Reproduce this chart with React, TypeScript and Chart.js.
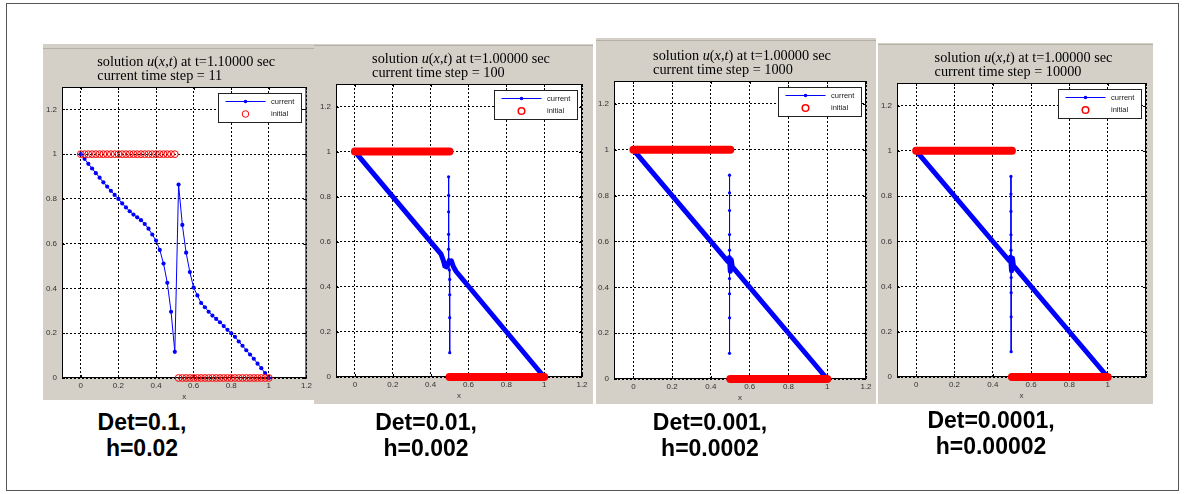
import React, { useEffect, useRef } from "react";
import { Chart, registerables } from "chart.js";

Chart.register(...registerables);

// ---------- tick labels ----------
const xTickValues = [0, 0.2, 0.4, 0.6, 0.8, 1, 1.2];
const xTickLabels = ["0", "0.2", "0.4", "0.6", "0.8", "1", "1.2"];
const xTickLabelsCut = ["0", "0.2", "0.4", "0.6", "0.8", "1", ""];
const yTickValues = [0, 0.2, 0.4, 0.6, 0.8, 1, 1.2];
const yTickLabels = ["0", "0.2", "0.4", "0.6", "0.8", "1", "1.2"];

// ---------- panel 1 (Det=0.1, h=0.02) ----------
const p1X = [0, 0.02, 0.04, 0.06, 0.08, 0.1, 0.12, 0.14, 0.16, 0.18, 0.2, 0.22, 0.24, 0.26, 0.28, 0.3, 0.32, 0.34, 0.36, 0.38, 0.4, 0.42, 0.44, 0.46, 0.48, 0.5, 0.52, 0.54, 0.56, 0.58, 0.6, 0.62, 0.64, 0.66, 0.68, 0.7, 0.72, 0.74, 0.76, 0.78, 0.8, 0.82, 0.84, 0.86, 0.88, 0.9, 0.92, 0.94, 0.96, 0.98, 1];
const p1Current = [1, 0.979, 0.957, 0.936, 0.915, 0.895, 0.874, 0.855, 0.836, 0.818, 0.8, 0.78, 0.762, 0.745, 0.73, 0.718, 0.705, 0.688, 0.667, 0.641, 0.614, 0.572, 0.511, 0.425, 0.296, 0.117, 0.864, 0.684, 0.56, 0.473, 0.404, 0.369, 0.335, 0.316, 0.296, 0.279, 0.264, 0.249, 0.232, 0.215, 0.2, 0.184, 0.163, 0.144, 0.124, 0.105, 0.086, 0.064, 0.044, 0.022, 0];
const p1Initial = [1, 1, 1, 1, 1, 1, 1, 1, 1, 1, 1, 1, 1, 1, 1, 1, 1, 1, 1, 1, 1, 1, 1, 1, 1, 1, 0, 0, 0, 0, 0, 0, 0, 0, 0, 0, 0, 0, 0, 0, 0, 0, 0, 0, 0, 0, 0, 0, 0, 0, 0];

// ---------- panel 2 (Det=0.01, h=0.002) ----------
const p2BandX = [0, 0.455, 0.468, 0.475, 0.485, 0.495, 0.51, 0.52, 0.535, 1];
const p2BandY = [1, 0.545, 0.515, 0.492, 0.488, 0.51, 0.515, 0.49, 0.468, 0];
const p2SpikeX = [0.495, 0.495, 0.495, 0.495, 0.495, 0.496, 0.499, 0.501, 0.501, 0.501, 0.501];
const p2SpikeY = [0.888, 0.806, 0.733, 0.633, 0.567, 0.522, 0.475, 0.433, 0.365, 0.263, 0.108];

// ---------- panel 3 (Det=0.001, h=0.0002) ----------
const p3BandX = [0, 0.488, 0.495, 0.5, 0.505, 0.51, 1];
const p3BandY = [1, 0.512, 0.53, 0.47, 0.52, 0.49, 0];
const p3SpikeX = [0.496, 0.496, 0.496, 0.496, 0.496, 0.496, 0.496, 0.496, 0.496, 0.496, 0.496];
const p3SpikeY = [0.889, 0.812, 0.735, 0.63, 0.562, 0.52, 0.5, 0.438, 0.372, 0.267, 0.112];

// ---------- panel 4 (Det=0.0001, h=0.00002) ----------
const p4BandX = [0, 0.486, 0.493, 0.498, 0.503, 0.508, 1];
const p4BandY = [1, 0.514, 0.53, 0.47, 0.525, 0.492, 0];
const p4SpikeX = [0.495, 0.495, 0.495, 0.495, 0.495, 0.495, 0.496, 0.496, 0.496, 0.496, 0.496];
const p4SpikeY = [0.887, 0.809, 0.732, 0.629, 0.561, 0.524, 0.48, 0.44, 0.373, 0.266, 0.112];

// initial condition (dense markers in panels 2-4 drawn as a thick bar)
const initBarX = [0, 0.5, 0.5, 0.5, 1];
const initBarY = [1, 1, null, 0, 0];

// ---------- texts ----------
const timeLabels = ["1.10000", "1.00000", "1.00000", "1.00000"];
const stepLabels = ["11", "100", "1000", "10000"];
const detLabels = ["Det=0.1,", "Det=0.01,", "Det=0.001,", "Det=0.0001,"];
const hLabels = ["h=0.02", "h=0.002", "h=0.0002", "h=0.00002"];

const SANS = "'Liberation Sans', Arial, sans-serif";
const SERIF = "'Liberation Serif', 'DejaVu Serif', serif";
const BLUE = "#0000ff";
const RED = "#ff0000";

const pts = (xs: number[], ys: (number | null)[]) => xs.map((x, i) => ({ x, y: ys[i] }));

type Geo = { left: number; top: number; w: number; h: number; plot: { l: number; t: number; r: number; b: number } };

const layouts: Geo[] = [
  { left: 43, top: 44, w: 272, h: 356, plot: { l: 62, t: 87, r: 307, b: 378 } },
  { left: 314, top: 44, w: 279, h: 360, plot: { l: 336, t: 84, r: 582, b: 377 } },
  { left: 596, top: 38, w: 280, h: 366, plot: { l: 614, t: 81, r: 866, b: 379 } },
  { left: 878, top: 43, w: 275, h: 361, plot: { l: 897, t: 83, r: 1146, b: 377 } },
];
const topLineOffsets = [4, 1, 2, 1];
const captionCenters = [142, 426, 710, 991];
const captionTops = [409, 409, 409, 407];

function buildDatasets(idx: number): any[] {
  if (idx === 0) {
    return [
      {
        label: "initial",
        data: pts(p1X, p1Initial),
        showLine: false,
        pointStyle: "circle",
        pointRadius: 3.4,
        pointBorderWidth: 1,
        pointBorderColor: RED,
        pointBackgroundColor: "rgba(0,0,0,0)",
        borderColor: RED,
        order: 1,
        clip: false,
      },
      {
        label: "current",
        data: pts(p1X, p1Current),
        borderColor: BLUE,
        borderWidth: 1,
        pointStyle: "circle",
        pointRadius: 2.1,
        pointBorderWidth: 0,
        pointBackgroundColor: BLUE,
        tension: 0,
        order: 2,
        clip: false,
      },
    ];
  }
  const bands = [null, [p2BandX, p2BandY], [p3BandX, p3BandY], [p4BandX, p4BandY]];
  const spikes = [null, [p2SpikeX, p2SpikeY], [p3SpikeX, p3SpikeY], [p4SpikeX, p4SpikeY]];
  const band = bands[idx] as any;
  const spike = spikes[idx] as any;
  return [
    {
      label: "initial",
      data: pts(initBarX, initBarY),
      borderColor: RED,
      borderWidth: 8,
      borderCapStyle: "round",
      pointRadius: 0,
      spanGaps: false,
      order: 1,
      clip: false,
    },
    {
      label: "current-spike",
      data: pts(spike[0], spike[1]),
      borderColor: BLUE,
      borderWidth: 1,
      pointStyle: "circle",
      pointRadius: 1.6,
      pointBorderWidth: 0,
      pointBackgroundColor: BLUE,
      order: 2,
      clip: false,
    },
    {
      label: "current",
      data: pts(band[0], band[1]),
      borderColor: BLUE,
      borderWidth: 5,
      borderCapStyle: "round",
      borderJoinStyle: "round",
      pointRadius: 0,
      order: 3,
      clip: false,
    },
  ];
}

function drawTitle(ctx: CanvasRenderingContext2D, a: any, t: string, step: string) {
  const segs: [string, boolean][] = [
    ["solution ", false],
    ["u", true],
    ["(", false],
    ["x", true],
    [",", false],
    ["t", true],
    [")", false],
    [" at t=" + t + " sec", false],
  ];
  const setFont = (size: number, it: boolean) => {
    ctx.font = `${it ? "italic " : ""}${size}px ${SERIF}`;
  };
  const measure = (size: number) =>
    segs.reduce((w, [s, it]) => {
      setFont(size, it);
      return w + ctx.measureText(s).width;
    }, 0);
  const size = (12 * 178) / measure(12);
  const total = measure(size);
  const cx = (a.left + a.right) / 2 + 2;
  let x = cx - total / 2;
  const x0 = x;
  const y1 = a.top - 21.5;
  ctx.fillStyle = "#000";
  ctx.textAlign = "left";
  ctx.textBaseline = "alphabetic";
  for (const [s, it] of segs) {
    setFont(size, it);
    ctx.fillText(s, x, y1);
    x += ctx.measureText(s).width;
  }
  setFont(size, false);
  ctx.fillText("current time step = " + step, x0, y1 + 14.3);
}

function makePlugin(idx: number) {
  return {
    id: "matlabLook" + idx,
    beforeDraw(chart: any) {
      const { ctx, chartArea: a } = chart;
      ctx.save();
      ctx.fillStyle = "#fff";
      ctx.fillRect(a.left, a.top, a.right - a.left, a.bottom - a.top);
      ctx.restore();
    },
    beforeDatasetsDraw(chart: any) {
      const { ctx, chartArea: a } = chart;
      const xs = chart.scales.x;
      const ys = chart.scales.y;
      ctx.save();
      ctx.strokeStyle = "#000";
      ctx.lineWidth = 1;
      ctx.setLineDash([]);
      ctx.strokeRect(a.left + 0.5, a.top + 0.5, a.right - a.left - 1, a.bottom - a.top - 1);
      ctx.beginPath();
      for (const v of xTickValues) {
        const px = Math.round(xs.getPixelForValue(v)) + 0.5;
        ctx.moveTo(px, a.bottom);
        ctx.lineTo(px, a.bottom - 3);
        ctx.moveTo(px, a.top);
        ctx.lineTo(px, a.top + 3);
      }
      for (const v of yTickValues) {
        const py = Math.round(ys.getPixelForValue(v)) + 0.5;
        ctx.moveTo(a.left, py);
        ctx.lineTo(a.left + 3, py);
        ctx.moveTo(a.right, py);
        ctx.lineTo(a.right - 3, py);
      }
      ctx.stroke();
      ctx.restore();
    },
    afterDatasetsDraw(chart: any) {
      const { ctx, chartArea: a } = chart;
      const bw = 83;
      const bh = 29;
      const bx = Math.round(a.right - 5.5 - bw);
      const by = Math.round(a.top + 6);
      ctx.save();
      ctx.fillStyle = "#fff";
      ctx.fillRect(bx, by, bw, bh);
      ctx.strokeStyle = "#222";
      ctx.lineWidth = 1;
      ctx.strokeRect(bx + 0.5, by + 0.5, bw, bh);
      // current sample
      ctx.strokeStyle = BLUE;
      ctx.beginPath();
      ctx.moveTo(bx + 7.5, by + 8.5);
      ctx.lineTo(bx + 47.5, by + 8.5);
      ctx.stroke();
      ctx.fillStyle = BLUE;
      ctx.beginPath();
      ctx.arc(bx + 27.5, by + 8.5, 1.8, 0, Math.PI * 2);
      ctx.fill();
      // initial sample
      ctx.strokeStyle = RED;
      ctx.lineWidth = idx === 0 ? 1 : 1.5;
      ctx.beginPath();
      ctx.arc(bx + 27.5, by + 21, 3.3, 0, Math.PI * 2);
      ctx.stroke();
      // texts
      ctx.fillStyle = "#222";
      ctx.font = `7.5px ${SANS}`;
      ctx.textAlign = "left";
      ctx.textBaseline = "middle";
      ctx.fillText("current", bx + 53, by + 8.5);
      ctx.fillText("initial", bx + 53, by + 21);
      ctx.restore();
    },
    afterDraw(chart: any) {
      const { ctx, chartArea: a } = chart;
      ctx.save();
      drawTitle(ctx, a, timeLabels[idx], stepLabels[idx]);
      ctx.fillStyle = "#333";
      ctx.font = `8px ${SANS}`;
      ctx.textAlign = "center";
      ctx.textBaseline = "middle";
      ctx.fillText("x", (a.left + a.right) / 2, a.bottom + 19);
      ctx.restore();
    },
  };
}

function Panel({ idx }: { idx: number }) {
  const ref = useRef<HTMLCanvasElement>(null);
  const g = layouts[idx];
  useEffect(() => {
    const canvas = ref.current;
    if (!canvas) return;
    const padTop = g.plot.t - g.top;
    const padRight = g.left + g.w - g.plot.r;
    const yW = g.plot.l - g.left;
    const xH = g.top + g.h - g.plot.b;
    const xLabels = idx === 3 ? xTickLabelsCut : xTickLabels;
    const chart = new Chart(canvas, {
      type: "line",
      data: { datasets: buildDatasets(idx) },
      options: {
        responsive: false,
        devicePixelRatio: 1,
        animation: false,
        events: [],
        layout: { padding: { top: padTop, right: padRight, left: 0, bottom: 0 } },
        plugins: { legend: { display: false }, title: { display: false }, tooltip: { enabled: false } },
        scales: {
          x: {
            type: "linear",
            min: -0.1,
            max: 1.2,
            afterBuildTicks: (s: any) => {
              s.ticks = xTickValues.map((v) => ({ value: v }));
            },
            afterFit: (s: any) => {
              s.height = xH;
            },
            ticks: {
              autoSkip: false,
              maxRotation: 0,
              padding: 3,
              color: "#333",
              font: { size: 8, family: SANS },
              callback: (_v: any, i: number) => xLabels[i],
            },
            grid: { color: "#000", lineWidth: 1, drawTicks: false },
            border: { display: false, dash: [2, 2] },
          },
          y: {
            type: "linear",
            min: 0,
            max: 1.3,
            afterBuildTicks: (s: any) => {
              s.ticks = yTickValues.map((v) => ({ value: v }));
            },
            afterFit: (s: any) => {
              s.width = yW;
            },
            ticks: {
              autoSkip: false,
              padding: 5,
              color: "#333",
              font: { size: 8, family: SANS },
              callback: (_v: any, i: number) => yTickLabels[i],
            },
            grid: { color: "#000", lineWidth: 1, drawTicks: false },
            border: { display: false, dash: [2, 2] },
          },
        },
      } as any,
      plugins: [makePlugin(idx) as any],
    });
    return () => chart.destroy();
  }, [idx]);
  return (
    <div
      style={{
        position: "absolute",
        left: g.left,
        top: g.top,
        width: g.w,
        height: g.h,
        background: "#d4d0c8",
      }}
    >
      <div
        style={{
          position: "absolute",
          left: 0,
          top: topLineOffsets[idx],
          width: g.w,
          height: 1,
          background: "#b4b0a8",
        }}
      />
      <canvas ref={ref} width={g.w} height={g.h} style={{ position: "absolute", left: 0, top: 0, display: "block" }} />
    </div>
  );
}

export default function App() {
  return (
    <div style={{ position: "absolute", left: 0, top: 0, width: 1185, height: 494, background: "#fff", overflow: "hidden" }}>
      <div
        style={{
          position: "absolute",
          left: 6,
          top: 3,
          width: 1171,
          height: 486,
          border: "1px solid #555",
        }}
      />
      {[0, 1, 2, 3].map((i) => (
        <Panel key={i} idx={i} />
      ))}
      {[0, 1, 2, 3].map((i) => (
        <div
          key={"c" + i}
          style={{
            position: "absolute",
            left: captionCenters[i] - 100,
            top: captionTops[i],
            width: 200,
            textAlign: "center",
            fontFamily: SANS,
            fontWeight: "bold",
            fontSize: 23,
            lineHeight: "26px",
            color: "#000",
          }}
        >
          <div>{detLabels[i]}</div>
          <div>{hLabels[i]}</div>
        </div>
      ))}
    </div>
  );
}
